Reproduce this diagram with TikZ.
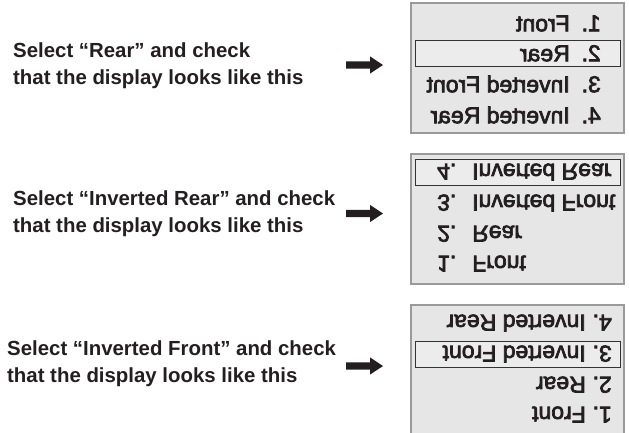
\documentclass[tikz,border=0pt]{standalone}
\usepackage{fontspec}
\setmainfont{Liberation Sans}
\newfontfamily\menufont[FakeBold=3]{Liberation Sans}
\definecolor{ink}{HTML}{231F20}
\definecolor{boxfill}{HTML}{E6E6E6}
\definecolor{boxline}{HTML}{9A9A9A}
\definecolor{selfill}{HTML}{ECECEC}
% #1 prefix, #2 number offset, #3 text offset, #4 centre of selected row
\newcommand\drawmenu[4]{%
  \draw[menubox] (0,0) rectangle (213,130);
  \draw[selbox] (4,#4-13) rectangle (209,#4+13);
  \node[item] (#1n1) at (#2,20) {1.};
  \node[item] (#1i1) at (#3,20) {Front};
  \node[item] (#1n2) at (#2,50) {2.};
  \node[item] (#1i2) at (#3,50) {Rear};
  \node[item] (#1n3) at (#2,81) {3.};
  \node[item] (#1i3) at (#3,81) {Inverted Front};
  \node[item] (#1n4) at (#2,112) {4.};
  \node[item] (#1i4) at (#3,112) {Inverted Rear};
}
\newcommand\fatarrow[1]{%
  \fill[arr] (#1) ++(0,-3.6) -- ++(24,0) -- ++(0,-5) -- ++(13,8.6) -- ++(-13,8.6) -- ++(0,-5) -- ++(-24,0) -- cycle;
}
\begin{document}
\begin{tikzpicture}[x=1pt,y=-1pt,
  lbl/.style={anchor=base west, inner sep=0pt, align=left, text=ink,
    font=\fontsize{20.4}{27}\selectfont\bfseries},
  menubox/.style={fill=boxfill, draw=boxline, line width=1.2pt},
  selbox/.style={fill=selfill, draw=black!80, line width=1pt},
  item/.style={anchor=west, inner sep=0pt, transform shape, text=ink,
    font=\fontsize{23}{23}\menufont, text height=16.5pt, text depth=0pt},
  arr/.style={fill=ink}]
\useasboundingbox (0,0) rectangle (629,432);
\clip (0,0) rectangle (629,432);
\fill[white] (0,0) rectangle (629,432);

% instructions (anchor = baseline of the second line)
\node[lbl] (t1) at (13,84) {Select “Rear” and check\\that the display looks like this};
\node[lbl] (t2) at (13,232) {Select “Inverted Rear” and check\\that the display looks like this};
\node[lbl] (t3) at (7,382) {Select “Inverted Front” and check\\that the display looks like this};

% arrows
\coordinate (a1) at (346,65);
\coordinate (a2) at (346,213.5);
\coordinate (a3) at (346,366);
\fatarrow{a1}
\fatarrow{a2}
\fatarrow{a3}

% menus
\begin{scope}[shift={(624,3)}, xscale=-1]
  \drawmenu{m1}{23}{54}{50}
\end{scope}
\begin{scope}[shift={(411,284)}, yscale=-1]
  \drawmenu{m2}{26}{61}{111.5}
\end{scope}
\begin{scope}[shift={(624,435)}, rotate=180]
  \drawmenu{m3}{12}{38}{80.5}
\end{scope}
\end{tikzpicture}
\end{document}
